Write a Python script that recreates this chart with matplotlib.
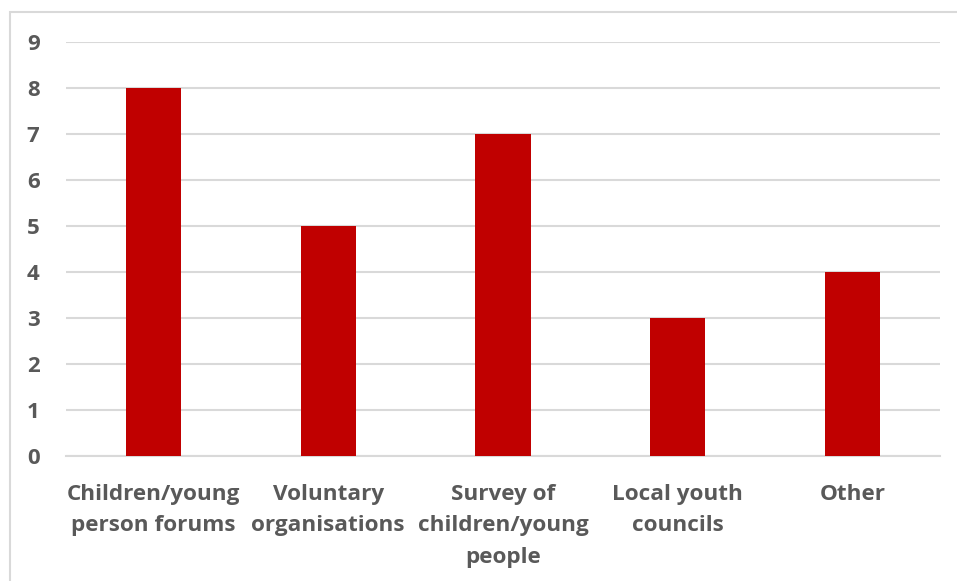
import matplotlib
matplotlib.use("Agg")
import matplotlib.pyplot as plt
from matplotlib.patches import Rectangle

categories = ["Children/young\nperson forums", "Voluntary\norganisations",
              "Survey of\nchildren/young\npeople", "Local youth\ncouncils", "Other"]
values = [8, 5, 7, 3, 4]
yticks = list(range(0, 10))

FONT = "Open Sans"
W, H = 957, 581
fig = plt.figure(figsize=(W / 100, H / 100), dpi=100)
fig.patch.set_facecolor("white")

# outer chart-area frame (runs off the right and bottom edges)
fig.patches.append(Rectangle((10 / W, -0.05), 1.1, 1 - 12 / H + 0.05,
                             transform=fig.transFigure, fill=False,
                             edgecolor="#d9d9d9", linewidth=1.5))

ax = fig.add_axes([66 / W, 1 - 456 / H, (940 - 66) / W, (456 - 42) / H])
x = range(len(categories))
ax.bar(x, values, width=0.315, color="#c00000", zorder=3)
ax.set_xlim(-0.5, len(categories) - 0.5)
ax.set_ylim(0, 9)
ax.set_yticks(yticks)
ax.yaxis.grid(True, color="#d9d9d9", linewidth=1.5, zorder=0)
for s in ["top", "right", "left"]:
    ax.spines[s].set_visible(False)
ax.spines["bottom"].set_color("#d9d9d9")
ax.spines["bottom"].set_linewidth(1.5)
ax.tick_params(axis="both", length=0, labelcolor="#595959")
ax.tick_params(axis="y", pad=19)
ax.tick_params(axis="x", pad=20)
ax.set_xticks(list(x))
ax.set_xticklabels(categories, fontfamily=FONT, fontweight="bold",
                   fontsize=16.2, linespacing=1.65)
for lbl in ax.get_yticklabels():
    lbl.set_fontfamily(FONT)
    lbl.set_fontweight("bold")
    lbl.set_fontsize(16)

fig.savefig("out.png", dpi=100, facecolor="white")
